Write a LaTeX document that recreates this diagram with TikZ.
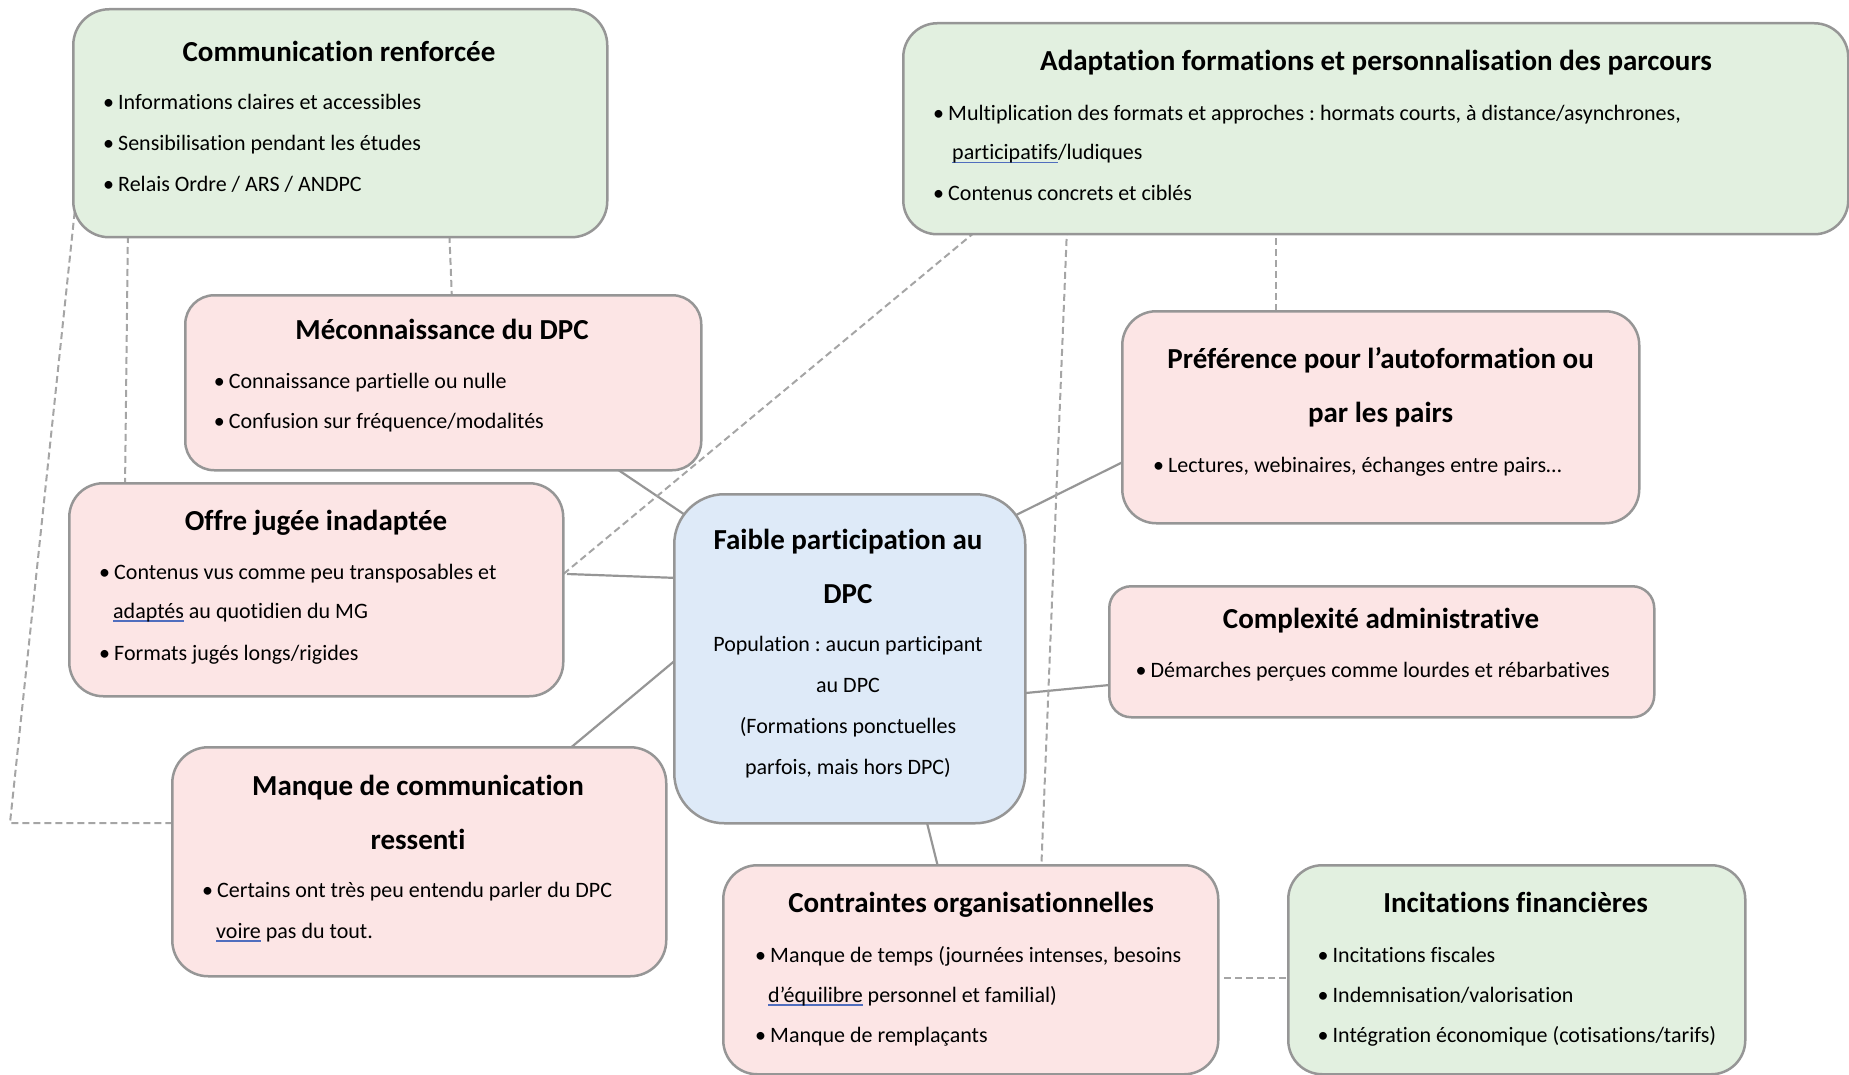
\documentclass[tikz,border=0pt]{standalone}
\usepackage{fontspec}
\setmainfont{Carlito}[Ligatures={NoCommon,NoContextual}]
\frenchspacing
\pgfdeclarelayer{bg}
\pgfsetlayers{bg,main}
\definecolor{gfill}{RGB}{226,240,224}
\definecolor{pfill}{RGB}{252,229,229}
\definecolor{bfill}{RGB}{222,234,248}
\definecolor{bord}{RGB}{150,150,150}
\definecolor{lnk}{RGB}{150,150,150}
\definecolor{dsh}{RGB}{165,165,165}
\definecolor{ulblue}{RGB}{80,110,190}
\newcommand\splu[1]{\setbox0\hbox{#1}\rlap{\color{ulblue}\rule[-3.5pt]{\wd0}{1.4pt}}\box0{}}
\newcommand\bul{\makebox[15pt][l]{•}}
\begin{document}
\begin{tikzpicture}[x=1pt,y=-1pt,
  card/.style={draw=bord, line width=2.5pt, inner sep=0pt, anchor=north west},
  gcard/.style={card, fill=gfill},
  pcard/.style={card, fill=pfill},
  bcard/.style={card, fill=bfill},
  ttl/.style={inner sep=0pt, anchor=base, font=\fontsize{29}{35}\selectfont\bfseries},
  bod/.style={inner sep=0pt, anchor=base west, font=\fontsize{22}{26}\selectfont},
  bodc/.style={inner sep=0pt, anchor=base, font=\fontsize{22}{26}\selectfont},
  solid link/.style={draw=lnk, line width=2.2pt},
  dash link/.style={draw=dsh, line width=2pt, dash pattern=on 7pt off 4pt},
]
\useasboundingbox (0,0) rectangle (1849,1075);

% ---------- boxes ----------
\node[gcard, minimum width=534pt, minimum height=228pt, rounded corners=36pt] (comm) at (72,8) {};
\node[gcard, minimum width=945pt, minimum height=211pt, rounded corners=34pt] (adapt) at (902,22) {};
\node[pcard, minimum width=516pt, minimum height=175pt, rounded corners=29pt] (mecon) at (184,294) {};
\node[pcard, minimum width=494pt, minimum height=213pt, rounded corners=34pt] (offre) at (68,482) {};
\node[pcard, minimum width=494pt, minimum height=229pt, rounded corners=36pt] (manque) at (171,746) {};
\node[bcard, minimum width=351pt, minimum height=329pt, rounded corners=50pt] (ctr) at (673,493) {};
\node[pcard, minimum width=517pt, minimum height=212pt, rounded corners=34pt] (pref) at (1121,310) {};
\node[pcard, minimum width=545pt, minimum height=131pt, rounded corners=22pt] (complex) at (1108,585) {};
\node[pcard, minimum width=495pt, minimum height=209pt, rounded corners=34pt] (contr) at (722,864) {};
\node[gcard, minimum width=457pt, minimum height=209pt, rounded corners=34pt] (incit) at (1287,864) {};

% ---------- texts ----------
\node[ttl] (comm-t) at (339,62) {Communication renforcée};
\node[bod] (comm-1) at (103,110) {\bul Informations claires et accessibles};
\node[bod] (comm-2) at (103,151) {\bul Sensibilisation pendant les études};
\node[bod] (comm-3) at (103,191.5) {\bul Relais Ordre / ARS / ANDPC};

\node[ttl] (adapt-t) at (1376,71) {Adaptation formations et personnalisation des parcours};
\node[bod] (adapt-1) at (933,120.5) {\bul Multiplication des formats et approches : hormats courts, à distance/asynchrones,};
\node[bod] (adapt-1b) at (952,160) {\splu{participatifs}/ludiques};
\node[bod] (adapt-2) at (933,200.5) {\bul Contenus concrets et ciblés};

\node[ttl] (mecon-t) at (442,339) {Méconnaissance du DPC};
\node[bod] (mecon-1) at (213.6,388) {\bul Connaissance partielle ou nulle};
\node[bod] (mecon-2) at (213.6,428) {\bul Confusion sur fréquence/modalités};

\node[ttl] (offre-t) at (316,530) {Offre jugée inadaptée};
\node[bod] (offre-1) at (99,579) {\bul Contenus vus comme peu transposables et};
\node[bod] (offre-1b) at (113,618) {\splu{adaptés} au quotidien du MG};
\node[bod] (offre-2) at (99,660) {\bul Formats jugés longs/rigides};

\node[ttl] (manque-t1) at (418,795) {Manque de communication};
\node[ttl] (manque-t2) at (418,849) {ressenti};
\node[bod] (manque-1) at (202,897) {\bul Certains ont très peu entendu parler du DPC};
\node[bod] (manque-1b) at (216,938) {\splu{voire} pas du tout.};

\node[ttl] (ctr-t1) at (848,549.5) {Faible participation au};
\node[ttl] (ctr-t2) at (848,603) {DPC};
\node[bodc] (ctr-1) at (848,651.5) {Population : aucun participant};
\node[bodc] (ctr-2) at (848,692.5) {au DPC};
\node[bodc] (ctr-3) at (848,733.5) {(Formations ponctuelles};
\node[bodc] (ctr-4) at (848,774) {parfois, mais hors DPC)};

\node[ttl] (pref-t1) at (1380.6,368.5) {Préférence pour l’autoformation ou};
\node[ttl] (pref-t2) at (1380.6,422) {par les pairs};
\node[bod] (pref-1) at (1153,472) {\bul Lectures, webinaires, échanges entre pairs…};

\node[ttl] (complex-t) at (1381,628) {Complexité administrative};
\node[bod] (complex-1) at (1135.5,677) {\bul Démarches perçues comme lourdes et rébarbatives};

\node[ttl] (contr-t) at (971,912.6) {Contraintes organisationnelles};
\node[bod] (contr-1) at (755,962) {\bul Manque de temps (journées intenses, besoins};
\node[bod] (contr-1b) at (768,1002) {\splu{d’équilibre} personnel et familial)};
\node[bod] (contr-2) at (755,1042) {\bul Manque de remplaçants};

\node[ttl] (incit-t) at (1515.6,912.6) {Incitations financières};
\node[bod] (incit-1) at (1317.5,962) {\bul Incitations fiscales};
\node[bod] (incit-2) at (1317.5,1002) {\bul Indemnisation/valorisation};
\node[bod] (incit-3) at (1317.5,1042) {\bul Intégration économique (cotisations/tarifs)};

% ---------- connectors ----------
\coordinate (bend) at (10,823);
\begin{pgfonlayer}{bg}
\draw[solid link] ([shift={(421,167)}]mecon.north west) -- ([shift={(27,32)}]ctr.north west);
\draw[solid link] ([shift={(499,92)}]offre.north west) -- ([shift={(22,85.6)}]ctr.north west);
\draw[solid link] ([shift={(391,9)}]manque.north west) -- ([shift={(17,155)}]ctr.north west);
\draw[solid link] ([shift={(14,146)}]pref.north west) -- ([shift={(327,30)}]ctr.north west);
\draw[solid link] ([shift={(12,99)}]complex.north west) -- ([shift={(337,201.5)}]ctr.north west);
\draw[solid link] ([shift={(218,11)}]contr.north west) -- ([shift={(251,318)}]ctr.north west);

\draw[dash link] ([shift={(377,217)}]comm.north west) -- ([shift={(268,6)}]mecon.north west);
\draw[dash link] ([shift={(56,217)}]comm.north west) -- ([shift={(57,8)}]offre.north west);
\draw[dash link] ([shift={(5,182)}]comm.north west) -- (bend) -- ([shift={(10,77)}]manque.north west);
\draw[dash link] ([shift={(73,210)}]adapt.north west) -- ([shift={(487,99)}]offre.north west);
\draw[dash link] ([shift={(165,206)}]adapt.north west) -- ([shift={(319,11)}]contr.north west);
\draw[dash link] ([shift={(374,205)}]adapt.north west) -- ([shift={(155,6)}]pref.north west);
\draw[dash link] ([shift={(502,114)}]contr.north west) -- ([shift={(5,114)}]incit.north west);
\end{pgfonlayer}
\end{tikzpicture}
\end{document}
